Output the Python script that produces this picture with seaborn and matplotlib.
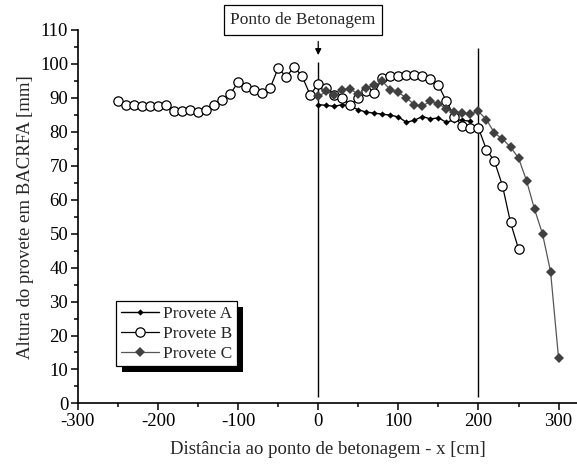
import numpy as np
import pandas as pd
import seaborn as sns
import matplotlib.pyplot as plt
import matplotlib.patheffects as pe
from matplotlib.ticker import MultipleLocator

# Provete A - small black diamonds
x_a = list(range(0, 200, 10))
y_a = [88.0, 87.8, 87.5, 88.0, 87.5, 86.5, 85.8, 85.5, 85.2, 84.9,
       84.4, 82.8, 83.4, 84.5, 83.8, 84.1, 82.8, 83.6, 83.4, 83.1]

# Provete B - open circles
x_b = list(range(-250, 260, 10))
y_b = [89.0, 87.8, 88.0, 87.5, 87.7, 87.5, 87.8, 86.2, 86.2, 86.3,
       85.9, 86.5, 88.0, 89.3, 91.1, 94.6, 93.2, 92.4, 91.4, 92.9,
       98.8, 96.2, 99.1, 96.3, 90.8,
       94.2, 93.0, 90.9, 90.0, 87.8, 90.0, 92.0, 91.4, 95.9, 96.4,
       96.5, 96.8, 96.8, 96.4, 95.7, 93.7, 89.0, 84.5, 81.6, 81.1,
       81.1, 74.7, 71.3, 64.1, 53.3, 45.5]

# Provete C - gray diamonds
x_c = list(range(0, 310, 10))
y_c = [90.4, 91.9, 90.9, 92.4, 92.7, 91.0, 93.0, 93.7, 94.9, 92.4,
       91.6, 90.0, 88.0, 87.6, 89.0, 88.3, 86.7, 85.7, 85.5, 85.3,
       86.0, 83.6, 79.6, 77.9, 75.5, 72.3, 65.6, 57.2, 49.9, 38.8, 13.3]

x_ticks = [-300, -200, -100, 0, 100, 200, 300]
y_ticks = list(range(0, 120, 10))
x_lines = [0, 200]

sns.set_style("ticks")
plt.rcParams['font.family'] = ['Liberation Serif', 'DejaVu Serif']

fig = plt.figure(figsize=(5.77, 4.68), dpi=100)
ax = fig.add_axes([0.135, 0.138, 0.865, 0.798])

gray = '#404040'

# vertical reference lines
ax.vlines(x_lines[0], 2, 100.6, color='k', lw=1.0, zorder=1)
ax.vlines(x_lines[1], 2, 104.8, color='k', lw=1.0, zorder=1)

sns.lineplot(x=x_a, y=y_a, ax=ax, color='k', lw=1.0, marker='D',
             markersize=3.2, markeredgewidth=0, label='Provete A', zorder=3)
sns.lineplot(x=x_b, y=y_b, ax=ax, color='k', lw=0.9, marker='o',
             markersize=6.7, markerfacecolor='white', markeredgecolor='k',
             markeredgewidth=0.9, label='Provete B', zorder=4)
sns.lineplot(x=x_c, y=y_c, ax=ax, color='#555555', lw=0.9, marker='D',
             markersize=5.6, markerfacecolor=gray, markeredgecolor=gray,
             markeredgewidth=0, label='Provete C', zorder=5)

ax.set_xlim(-300, 323)
ax.set_ylim(0, 110)
ax.set_xticks(x_ticks)
ax.set_xticklabels([str(t) for t in x_ticks])
ax.set_yticks(y_ticks)
ax.xaxis.set_minor_locator(MultipleLocator(50))
ax.yaxis.set_minor_locator(MultipleLocator(5))
ax.tick_params(which='major', direction='out', length=5, width=1.1,
               labelsize=13.5, color='k', labelcolor='k', pad=2)
ax.tick_params(which='minor', direction='out', length=3, width=1.1, color='k')
sns.despine(ax=ax)
for s in ['left', 'bottom']:
    ax.spines[s].set_linewidth(1.2)
    ax.spines[s].set_color('k')

ax.set_xlabel('Distância ao ponto de betonagem - x [cm]', fontsize=13.5, labelpad=8)
ax.set_ylabel('Altura do provete em BACRFA [mm]', fontsize=13.5, labelpad=4)

# arrow and title box for the casting point
ax.annotate('', xy=(0, 102.6), xytext=(0, 106.6),
            arrowprops=dict(arrowstyle='-|>', color='k', lw=0.9,
                            mutation_scale=9, shrinkA=0, shrinkB=0))
fig.text(303 / 577, 1 - 20 / 468, 'Ponto de Betonagem', fontsize=12.5,
         ha='center', va='center',
         bbox=dict(boxstyle='square,pad=0.38', fc='white', ec='k', lw=0.9))

leg = ax.legend(loc='lower left', bbox_to_anchor=(0.077, 0.1),
                borderaxespad=0, fancybox=False, fontsize=12.5,
                edgecolor='k', framealpha=1, handlelength=2.2,
                handletextpad=0.25, borderpad=0.25, labelspacing=0.22)
frame = leg.get_frame()
frame.set_linewidth(0.9)
frame.set_path_effects([pe.SimplePatchShadow(offset=(4.3, -4.3),
                                             shadow_rgbFace='k', alpha=1),
                        pe.Normal()])

fig.savefig('out.png', dpi=100)
